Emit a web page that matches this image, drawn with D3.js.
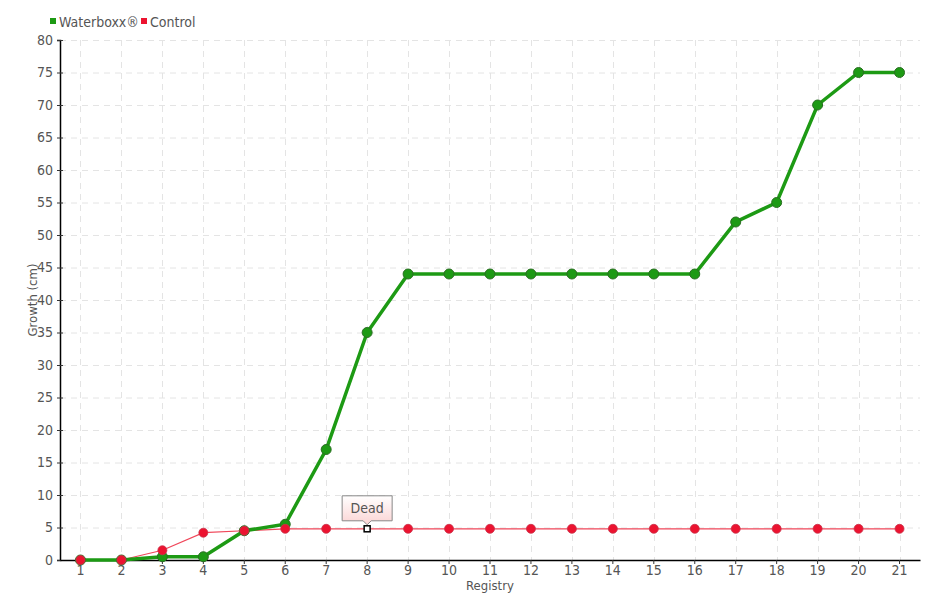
<!DOCTYPE html>
<html>
<head>
<meta charset="utf-8">
<script src="https://cdn.jsdelivr.net/npm/d3@7"></script>
<style>
  body { margin: 0; background: #fff; }
  svg text { font-family: "DejaVu Sans Condensed", "Liberation Sans Narrow", sans-serif; fill: #555; font-weight: 300; }
</style>
</head>
<body>
<div id="chart"></div>
<script>
// Chart data
const registry = d3.range(1, 22).map(String);
const waterboxx = [0, 0, 0.5, 0.5, 4.5, 5.5, 17, 35, 44, 44, 44, 44, 44, 44, 44, 44, 52, 55, 70, 75, 75];
const control = [0, 0, 1.5, 4.2, 4.5, 4.8, 4.8, 4.8, 4.8, 4.8, 4.8, 4.8, 4.8, 4.8, 4.8, 4.8, 4.8, 4.8, 4.8, 4.8, 4.8];
const yTicks = d3.range(0, 81, 5);
const deadIndex = 7; // registry 8

const W = 940, H = 600;
const margin = { top: 40, right: 20, bottom: 40, left: 60 };

const svg = d3.select('#chart').append('svg')
  .attr('width', W).attr('height', H);

const x = d3.scaleBand().domain(registry).range([margin.left, W - margin.right]);
const y = d3.scaleLinear().domain([0, 80]).range([H - margin.bottom, margin.top]);
const cx = d => x(d) + x.bandwidth() / 2;

// Grid
const grid = svg.append('g').attr('stroke', '#e4e4e4').attr('stroke-dasharray', '6,5');
grid.selectAll('.h').data(yTicks.slice(1)).enter().append('line')
  .attr('x1', margin.left).attr('x2', W - margin.right)
  .attr('y1', d => y(d) + 0.5).attr('y2', d => y(d) + 0.5);
grid.selectAll('.v').data(registry).enter().append('line')
  .attr('x1', d => Math.round(cx(d)) + 0.5).attr('x2', d => Math.round(cx(d)) + 0.5)
  .attr('y1', margin.top).attr('y2', H - margin.bottom);

// Axes
const yAxis = svg.append('g').attr('transform', `translate(${margin.left},0)`)
  .call(d3.axisLeft(y).tickValues(yTicks).tickSize(3).tickPadding(4));
yAxis.select('.domain').attr('stroke', '#000').attr('stroke-width', 1.5);
yAxis.selectAll('.tick line').attr('x2', 3).attr('x1', -3).attr('stroke', '#333');
yAxis.selectAll('.tick text').attr('font-size', 14).attr('fill', '#555');

const xAxis = svg.append('g').attr('transform', `translate(0,${H - margin.bottom})`)
  .call(d3.axisBottom(x).tickSize(4).tickPadding(1).tickSizeOuter(0));
xAxis.select('.domain').attr('stroke', '#000').attr('stroke-width', 1.5);
xAxis.selectAll('.tick line').attr('stroke', '#333');
xAxis.selectAll('.tick text').attr('font-size', 14).attr('fill', '#555');

// Axis titles
svg.append('text').attr('x', 490).attr('y', 590).attr('text-anchor', 'middle')
  .attr('font-size', 13).text('Registry');
svg.append('text').attr('transform', 'translate(37,300) rotate(-90)')
  .attr('text-anchor', 'middle').attr('font-size', 13).text('Growth (cm)');

// Lines
const line = d3.line().x((d, i) => cx(registry[i])).y(d => y(d));

svg.append('path').datum(control).attr('fill', 'none')
  .attr('stroke', '#f0475a').attr('stroke-width', 1.2).attr('d', line);
svg.append('path').datum(waterboxx).attr('fill', 'none')
  .attr('stroke', '#1d9a14').attr('stroke-width', 3.5).attr('d', line);

svg.append('g').selectAll('circle').data(waterboxx).enter().append('circle')
  .attr('cx', (d, i) => cx(registry[i])).attr('cy', d => y(d)).attr('r', 5)
  .attr('fill', '#1d9a14').attr('stroke', '#2a6e22').attr('stroke-width', 1);

svg.append('g').selectAll('circle').data(control).enter().append('circle')
  .attr('cx', (d, i) => cx(registry[i])).attr('cy', d => y(d)).attr('r', 4.5)
  .attr('fill', (d, i) => i === deadIndex ? 'none' : '#ec1330')
  .attr('stroke', (d, i) => i === deadIndex ? 'none' : '#c8324a')
  .attr('stroke-width', 0.8);

// Dead marker + label
const dx = cx(registry[deadIndex]), dy = y(control[deadIndex]);
svg.append('rect').attr('x', dx - 3).attr('y', dy - 3).attr('width', 6).attr('height', 6)
  .attr('fill', '#fff').attr('stroke', '#000').attr('stroke-width', 1.5);

const defs = svg.append('defs');
const grad = defs.append('linearGradient').attr('id', 'tip').attr('x1', 0).attr('x2', 0).attr('y1', 0).attr('y2', 1);
grad.append('stop').attr('offset', '0%').attr('stop-color', '#fff');
grad.append('stop').attr('offset', '100%').attr('stop-color', '#fbd3d3');

const bx = dx - 25, by = dy - 33, bw = 50, bh = 25;
svg.append('path')
  .attr('d', `M${bx},${by}H${bx + bw}V${by + bh}H${dx + 4}L${dx},${by + bh + 4}L${dx - 4},${by + bh}H${bx}Z`)
  .attr('fill', 'url(#tip)').attr('stroke', '#888').attr('stroke-width', 1);
svg.append('text').attr('x', dx).attr('y', by + 17).attr('text-anchor', 'middle')
  .attr('font-size', 14).text('Dead');

// Legend
const legend = [{ name: 'Waterboxx®', color: '#1d9a14', x: 50 }, { name: 'Control', color: '#ec1330', x: 141 }];
const lg = svg.append('g').selectAll('g').data(legend).enter().append('g')
  .attr('transform', d => `translate(${d.x},0)`);
lg.append('rect').attr('x', 0).attr('y', 18).attr('width', 6).attr('height', 6).attr('fill', d => d.color);
lg.append('text').attr('x', 9).attr('y', 27).attr('font-size', 14).text(d => d.name);
</script>
</body>
</html>
